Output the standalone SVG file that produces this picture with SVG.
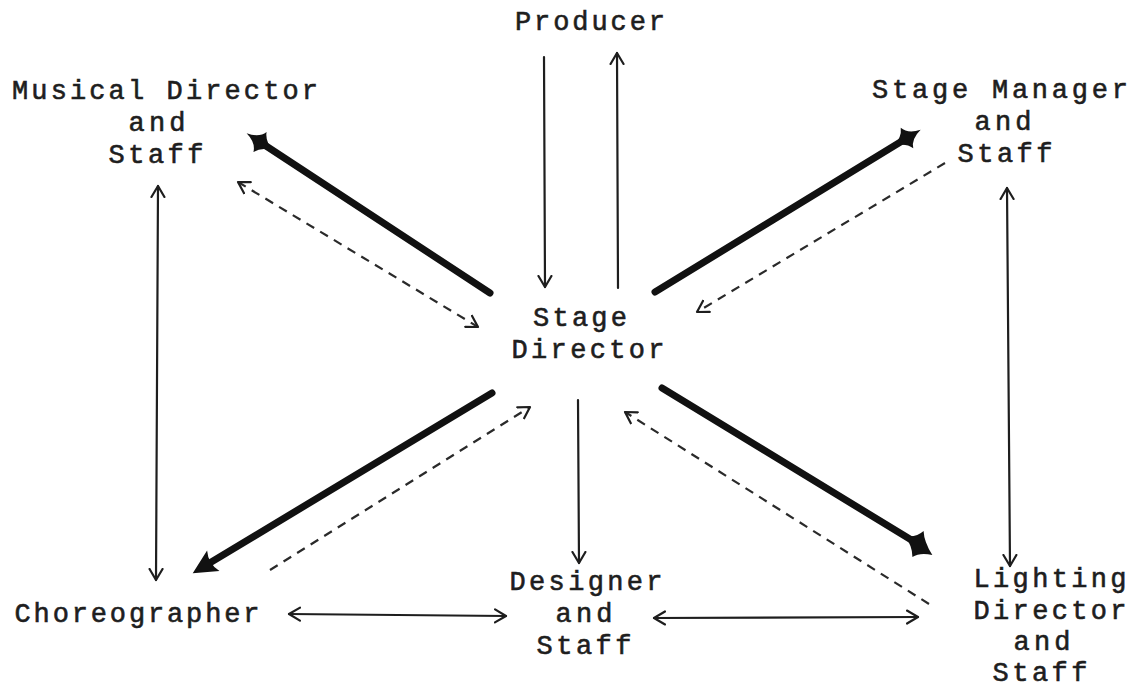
<svg xmlns="http://www.w3.org/2000/svg" width="1138" height="687" viewBox="0 0 1138 687">
<style>
text{font-family:"Liberation Mono","Courier New",monospace;font-size:27px;fill:#1e1e1e;stroke:#1e1e1e;stroke-width:0.6;text-anchor:middle}
.thin{fill:none;stroke:#1e1e1e;stroke-width:2.2;stroke-linecap:round}
.dash{fill:none;stroke:#2a2a2a;stroke-width:2.2;stroke-dasharray:9 7}
.thick{fill:none;stroke:#111;stroke-width:7;stroke-linecap:round}
</style>
<defs>
<marker id="open" viewBox="-12 -8 14 16" markerWidth="14" markerHeight="16" refX="0" refY="0" orient="auto-start-reverse" markerUnits="userSpaceOnUse">
<path d="M-11,-6.5 L0,0 L-11,6.5" fill="none" stroke="#1e1e1e" stroke-width="2.2" stroke-linecap="round" stroke-linejoin="round"/>
</marker>
<marker id="star" viewBox="-18 -14 36 28" markerWidth="36" markerHeight="28" refX="0" refY="0" orient="auto" markerUnits="userSpaceOnUse">
<path d="M-16,0 Q-4,-3 0,-12 Q3,-3 16,0 Q3,3 0,12 Q-4,3 -16,0 Z" fill="#111"/>
</marker>
<marker id="bigstar" viewBox="-20 -16 40 32" markerWidth="40" markerHeight="32" refX="0" refY="0" orient="auto" markerUnits="userSpaceOnUse">
<path d="M-16,0 Q-5,-4 -2,-14 Q4,-5 18,2 Q6,6 2,14 Q-4,4 -16,0 Z" fill="#111"/>
</marker>
<marker id="head" viewBox="-20 -14 34 28" markerWidth="34" markerHeight="28" refX="0" refY="0" orient="auto" markerUnits="userSpaceOnUse">
<path d="M12,0 L-12,-12 Q-6,0 -12,12 Z" fill="#111"/>
</marker>
</defs>
<g id="producer"><text x="590" y="30" textLength="150">Producer</text></g>
<g id="musical-director"><text x="165" y="99" textLength="306">Musical Director</text><text x="157" y="131" textLength="57">and</text><text x="156" y="163" textLength="95">Staff</text></g>
<g id="stage-manager"><text x="1000" y="98" textLength="256">Stage Manager</text><text x="1003" y="130" textLength="57">and</text><text x="1005" y="162" textLength="95">Staff</text></g>
<g id="stage-director"><text x="580" y="326" textLength="94">Stage</text><text x="588" y="358" textLength="153">Director</text></g>
<g id="choreographer"><text x="137" y="622" textLength="245">Choreographer</text></g>
<g id="designer"><text x="586" y="590" textLength="153">Designer</text><text x="584" y="622" textLength="57">and</text><text x="584" y="654" textLength="95">Staff</text></g>
<g id="lighting-director"><text x="1050" y="587" textLength="153">Lighting</text><text x="1050" y="619" textLength="153">Director</text><text x="1042" y="650" textLength="57">and</text><text x="1040" y="681" textLength="95">Staff</text></g>
<g id="connectors">
<path class="thin" d="M544,57 L545,287" marker-end="url(#open)"/>
<path class="thin" d="M618,288 L617,53" marker-end="url(#open)"/>
<path class="thin" d="M158,186 L156,580" marker-start="url(#open)" marker-end="url(#open)"/>
<path class="thin" d="M1007,188 L1010,566" marker-start="url(#open)" marker-end="url(#open)"/>
<path class="thin" d="M289,614 L506,616" marker-start="url(#open)" marker-end="url(#open)"/>
<path class="thin" d="M654,618 L918,617" marker-start="url(#open)" marker-end="url(#open)"/>
<path class="thin" d="M578,400 L579,563" marker-end="url(#open)"/>
<path class="thick" d="M490,293 L260,142" marker-end="url(#star)"/>
<path class="thick" d="M655,292 L907,138" marker-end="url(#star)"/>
<path class="thick" d="M492,393 L203,567" marker-end="url(#head)"/>
<path class="thick" d="M662,388 L918,544" marker-end="url(#bigstar)"/>
<path class="dash" d="M238,182 L478,327" marker-start="url(#open)" marker-end="url(#open)"/>
<path class="dash" d="M945,163 L697,312" marker-end="url(#open)"/>
<path class="dash" d="M270,570 L530,407" marker-end="url(#open)"/>
<path class="dash" d="M929,604 L625,412" marker-end="url(#open)"/>
</g>
</svg>
